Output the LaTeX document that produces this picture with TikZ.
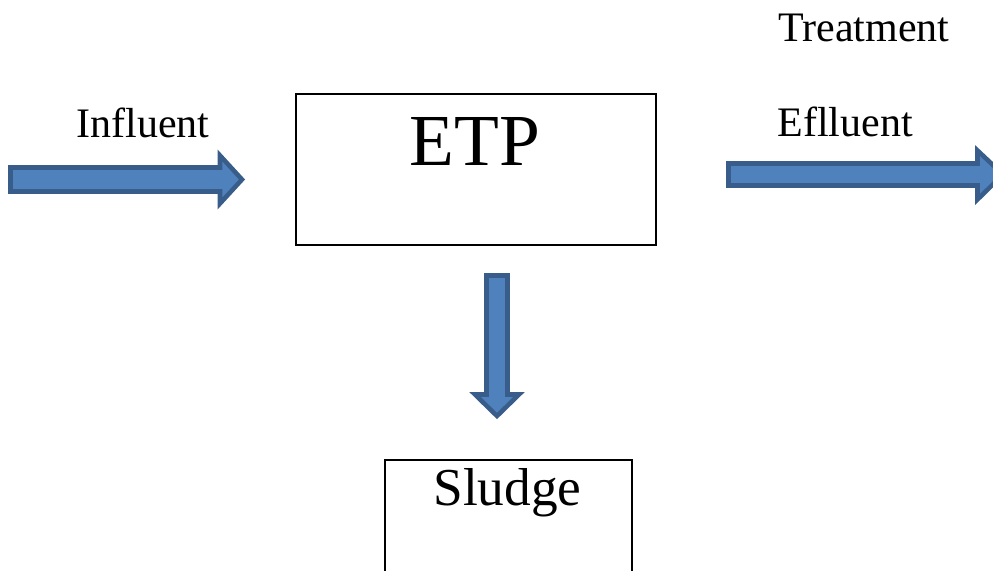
\documentclass[tikz,border=0pt]{standalone}
\usepackage{fontspec}
\setmainfont{Liberation Serif}
\begin{document}
\begin{tikzpicture}[x=0.75pt,y=-0.75pt,
  blockarrow/.style={draw=arrowedge,fill=arrowfill,line width=3.4pt,line join=miter},
  boxframe/.style={draw=black,line width=1.5pt},
  lbl/.style={inner sep=0pt,font=\fontsize{31.5}{36}\selectfont}]
\definecolor{arrowfill}{HTML}{4F81BD}
\definecolor{arrowedge}{HTML}{385D8A}
\useasboundingbox (0,0) rectangle (993,571);
\clip (0,0) rectangle (993,571);
% ETP box
\node[boxframe,minimum width=360*0.75pt,minimum height=151*0.75pt,anchor=north west,inner sep=0pt] (etp) at (295,93) {};
\node[inner sep=0pt,font=\fontsize{55}{60}\selectfont] (etptext) at (475,141) {ETP};
% Sludge box (open at bottom, cut by frame)
\node[boxframe,minimum width=247*0.75pt,minimum height=140*0.75pt,anchor=north west,inner sep=0pt] (sludge) at (384,459) {};
\node[lbl,font=\fontsize{40}{44}\selectfont] (sludgetext) at (507.5,493) {Sludge};
% labels
\node[lbl] (influent) at (143,123) {Influent};
\node[lbl] (treatment) at (864,28) {Treatment};
\node[lbl] (effluent) at (845,122) {Eflluent};
% left arrow
\draw[blockarrow] (10.5,167.5) -- (220,167.5) -- (220,155.5) -- (242,179.5) -- (220,203.5) -- (220,191.5) -- (10.5,191.5) -- cycle;
% right arrow
\draw[blockarrow] (728.5,163.5) -- (977.5,163.5) -- (977.5,150.5) -- (1003,174.5) -- (977.5,199.5) -- (977.5,185.5) -- (728.5,185.5) -- cycle;
% down arrow
\draw[blockarrow] (486.5,275.5) -- (507.5,275.5) -- (507.5,394.5) -- (519,394.5) -- (497,416) -- (475,394.5) -- (486.5,394.5) -- cycle;
\end{tikzpicture}
\end{document}
